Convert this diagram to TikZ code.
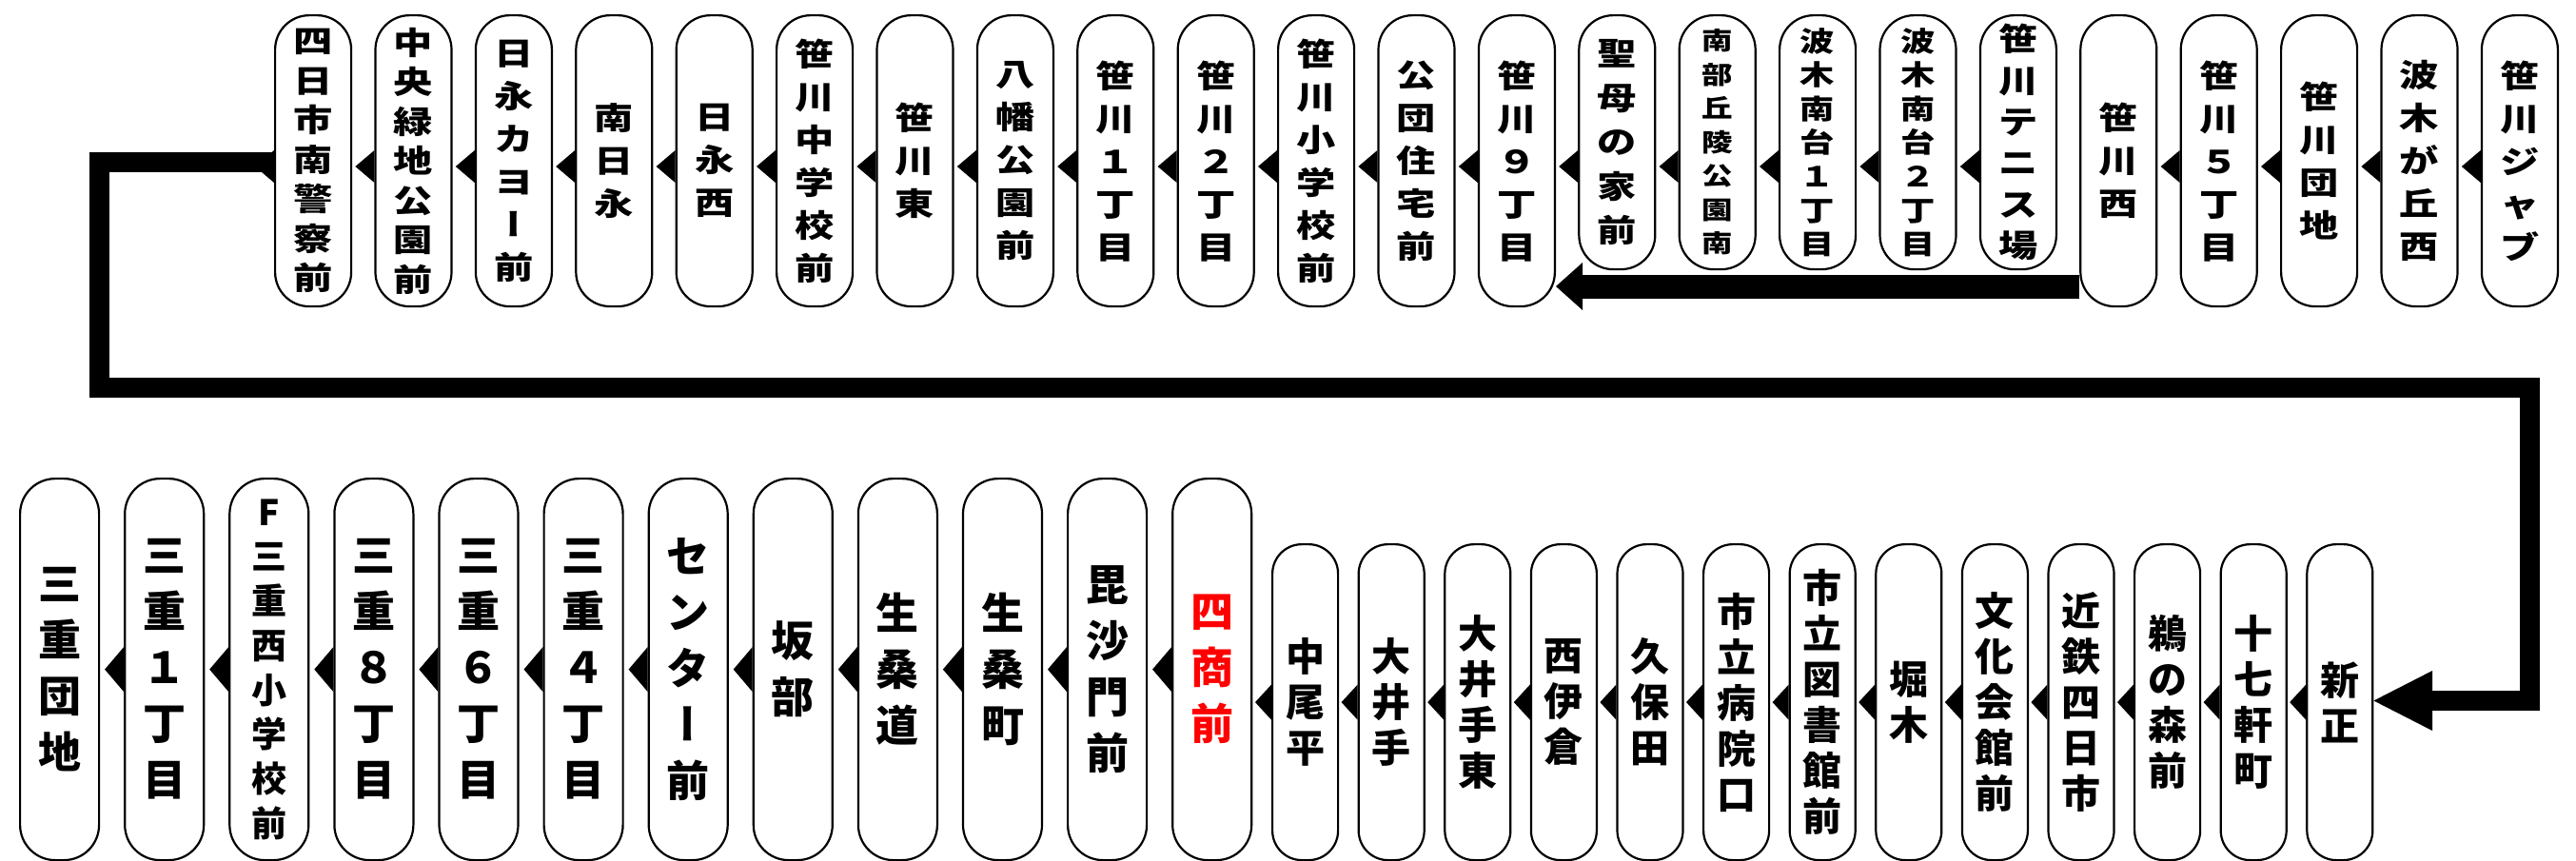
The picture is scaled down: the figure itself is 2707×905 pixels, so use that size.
\documentclass[tikz,border=0pt]{standalone}
\usepackage{fontspec}
\usetikzlibrary{calc}
\newfontfamily\jpT[FakeStretch=1.25]{Noto Sans CJK JP}
\newfontfamily\jpTv[FakeStretch=1.25,RawFeature=+vert]{Noto Sans CJK JP}
\newfontfamily\jpB{Noto Sans CJK JP}
\newfontfamily\jpBv[RawFeature=+vert]{Noto Sans CJK JP}
\newcommand\TF[2]{\jpT\bfseries\fontsize{#1}{#2}\selectfont}
\newcommand\BF[2]{\jpB\bfseries\fontsize{#1}{#2}\selectfont}
\newcommand\TL{{\jpTv\bfseries ー}}
\newcommand\BL{{\jpBv\bfseries ー}}
\newcommand\tarrT[1]{\fill ($(#1.north west)+(0,160)$) ++(0,17) -- ++(-20,-17) -- ++(20,-17) -- cycle;}
\newcommand\tarrB[1]{\fill (#1.west) ++(0,23.5) -- ++(-20,-23.5) -- ++(20,-23.5) -- cycle;}
\newcommand\tarrS[1]{\fill (#1.west) ++(0,18.5) -- ++(-17,-18.5) -- ++(17,-18.5) -- cycle;}
\begin{document}
\begin{tikzpicture}[x=1pt,y=-1pt,
  box/.style={draw, fill=white, line width=2.2pt, inner sep=0pt, anchor=north west, align=center},
  tb/.style={box, rounded corners=36pt, minimum width=80pt, minimum height=306pt, font=\TF{33}{45}},
  tbs/.style={tb, minimum height=267pt},
  bb/.style={box, rounded corners=37pt, minimum width=83pt, minimum height=401pt, font=\BF{45}{59}},
  bs/.style={box, rounded corners=31pt, minimum width=69pt, minimum height=332pt, font=\BF{41}{48}},
  route/.style={line width=21pt, line join=miter}]
\useasboundingbox (0,0) rectangle (2707,905);
% top row
\node[tb,font=\TF{33}{41.5}] (t1) at (288,15) {四\\日\\市\\南\\警\\察\\前};
\node[tb,font=\TF{33}{41.5}] (t2) at (393.4,15) {中\\央\\緑\\地\\公\\園\\前};
\node[tb] (t3) at (498.8,15) {日\\永\\カ\\ヨ\\\TL\\前};
\node[tb] (t4) at (604.2,15) {南\\日\\永};
\node[tb] (t5) at (709.6,15) {日\\永\\西};
\node[tb] (t6) at (815,15) {笹\\川\\中\\学\\校\\前};
\node[tb] (t7) at (920.4,15) {笹\\川\\東};
\node[tb] (t8) at (1025.8,15) {八\\幡\\公\\園\\前};
\node[tb] (t9) at (1131.2,15) {笹\\川\\１\\丁\\目};
\node[tb] (t10) at (1236.6,15) {笹\\川\\２\\丁\\目};
\node[tb] (t11) at (1342,15) {笹\\川\\小\\学\\校\\前};
\node[tb] (t12) at (1447.4,15) {公\\団\\住\\宅\\前};
\node[tb] (t13) at (1552.8,15) {笹\\川\\９\\丁\\目};
\node[tbs,font=\TF{33}{46.5}] (t14) at (1658.2,15) {聖\\母\\の\\家\\前};
\node[tbs,font=\TF{26}{35.5}] (t15) at (1763.6,15) {南\\部\\丘\\陵\\公\\園\\南};
\node[tbs,font=\TF{29}{35.6}] (t16) at (1869,15) {波\\木\\南\\台\\１\\丁\\目};
\node[tbs,font=\TF{29}{35.6}] (t17) at (1974.4,15) {波\\木\\南\\台\\２\\丁\\目};
\node[tbs,font=\TF{33}{43.3}] (t18) at (2079.8,15) {笹\\川\\テ\\ニ\\ス\\場};
\node[tb] (t19) at (2185.2,15) {笹\\川\\西};
\node[tb] (t20) at (2290.6,15) {笹\\川\\５\\丁\\目};
\node[tb] (t21) at (2396,15) {笹\\川\\団\\地};
\node[tb] (t22) at (2501.4,15) {波\\木\\が\\丘\\西};
\node[tb] (t23) at (2606.8,15) {笹\\川\\ジ\\ャ\\ブ};
% bottom row
\node[bb] (b1) at (20,502) {三\\重\\団\\地};
\node[bb] (b2) at (130.1,502) {三\\重\\１\\丁\\目};
\node[bb,font=\BF{37}{46.7}] (b3) at (240.2,502) {F\\三\\重\\西\\小\\学\\校\\前};
\node[bb] (b4) at (350.3,502) {三\\重\\８\\丁\\目};
\node[bb] (b5) at (460.4,502) {三\\重\\６\\丁\\目};
\node[bb] (b6) at (570.5,502) {三\\重\\４\\丁\\目};
\node[bb] (b7) at (680.6,502) {セ\\ン\\タ\\\BL\\前};
\node[bb] (b8) at (790.7,502) {坂\\部};
\node[bb] (b9) at (900.8,502) {生\\桑\\道};
\node[bb] (b10) at (1010.9,502) {生\\桑\\町};
\node[bb] (b11) at (1121,502) {毘\\沙\\門\\前};
\node[bb,text=red] (b12) at (1231.1,502) {四\\商\\前};
\node[bs] (b13) at (1336,571) {中\\尾\\平};
\node[bs] (b14) at (1426.6,571) {大\\井\\手};
\node[bs] (b15) at (1517.2,571) {大\\井\\手\\東};
\node[bs] (b16) at (1607.8,571) {西\\伊\\倉};
\node[bs] (b17) at (1698.4,571) {久\\保\\田};
\node[bs] (b18) at (1789,571) {市\\立\\病\\院\\口};
\node[bs] (b19) at (1879.6,571) {市\\立\\図\\書\\館\\前};
\node[bs] (b20) at (1970.2,571) {堀\\木};
\node[bs] (b21) at (2060.8,571) {文\\化\\会\\館\\前};
\node[bs] (b22) at (2151.4,571) {近\\鉄\\四\\日\\市};
\node[bs] (b23) at (2242,571) {鵜\\の\\森\\前};
\node[bs] (b24) at (2332.6,571) {十\\七\\軒\\町};
\node[bs] (b25) at (2423.2,571) {新\\正};
% small arrows
\foreach \i in {1,...,18,20,21,22,23} {\tarrT{t\i}}
\foreach \i in {2,...,12} {\tarrB{b\i}}
\foreach \i in {13,...,25} {\tarrS{b\i}}
% main route
\coordinate (r1) at (104,170);
\coordinate (r2) at (104,407.5);
\coordinate (r3) at (2658.5,407.5);
\coordinate (r4) at (2658.5,736.5);
\coordinate (r5) at (2556,736.5);
\draw[route] (t1.west |- r1) -- (r1) -- (r2) -- (r3) -- (r4) -- (r5);
\fill (b25.east |- r5) -- ($(r5)+(0,-31.5)$) -- ($(r5)+(0,31.5)$) -- cycle;
% bypass
\coordinate (s1) at (1663,301);
\draw[line width=25pt] (t19.west |- s1) -- (s1);
\fill (t13.east |- s1) -- ($(s1)+(0,-25)$) -- ($(s1)+(0,25)$) -- cycle;
\end{tikzpicture}
\end{document}
